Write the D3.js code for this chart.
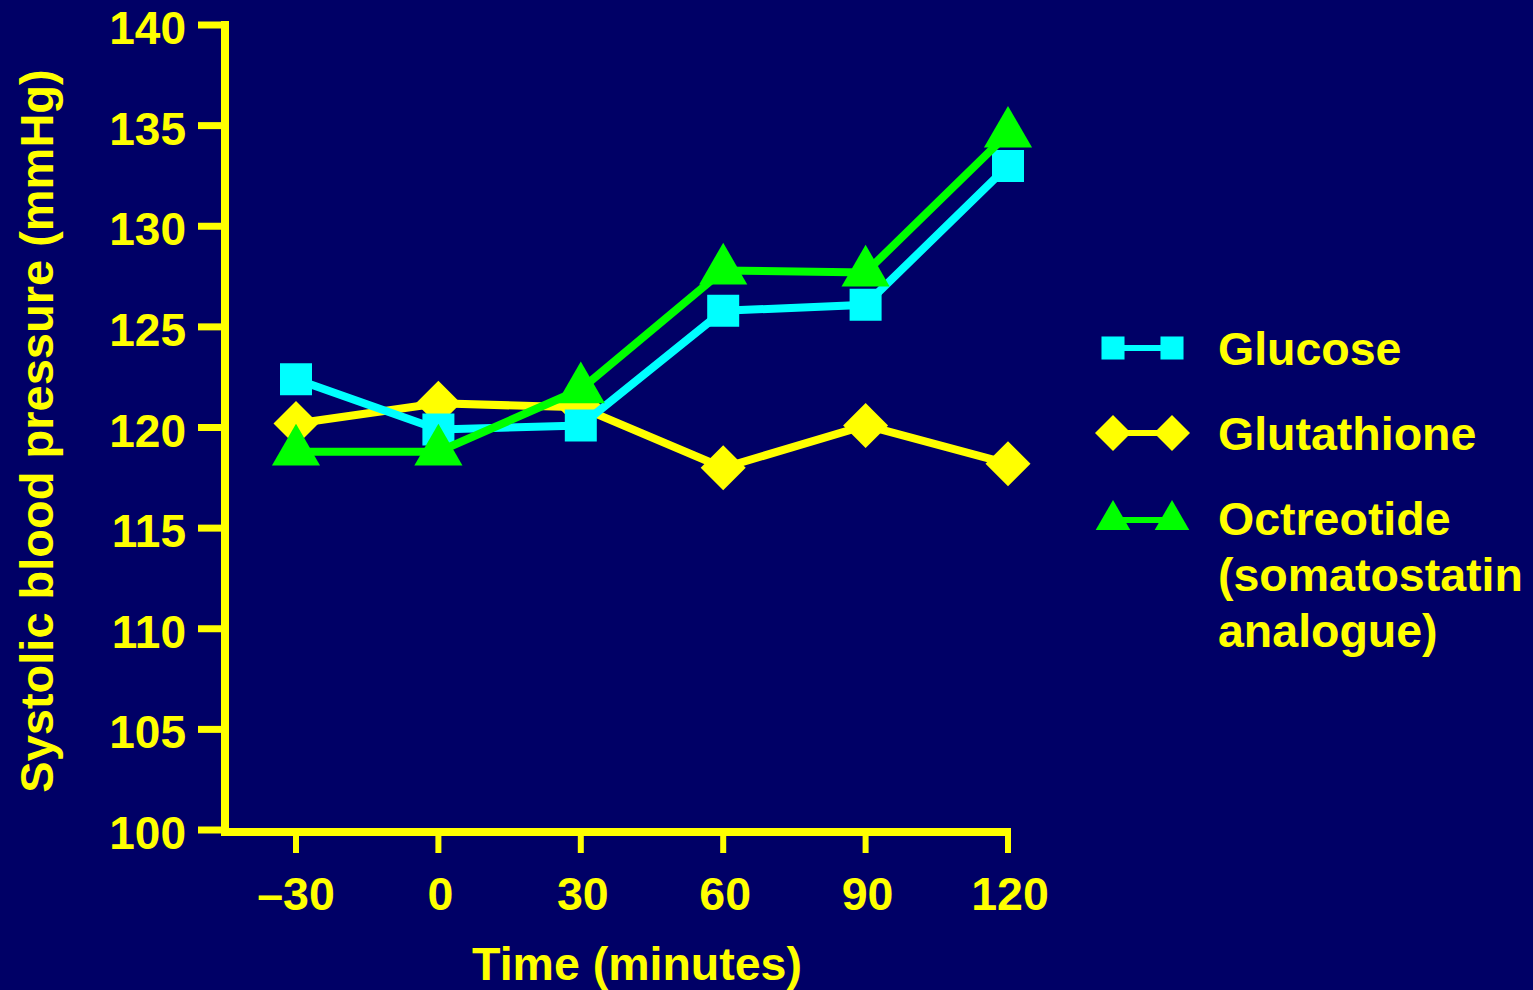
<!DOCTYPE html>
<html>
<head>
<meta charset="utf-8">
<script src="https://cdn.jsdelivr.net/npm/d3@7"></script>
<style>
  html, body { margin: 0; padding: 0; background: #000066; }
  svg { display: block; }
</style>
</head>
<body>
<script>
"use strict";

const width = 1533;
const height = 990;

// data
const times = [-30, 0, 30, 60, 90, 120];
const tickLabels = ["\u201330", "0", "30", "60", "90", "120"];
const yTicks = [100, 105, 110, 115, 120, 125, 130, 135, 140];
const glucose = [122.4, 119.9, 120.1, 125.8, 126.1, 133.0];
const glutathione = [120.2, 121.2, 121.0, 118.0, 120.1, 118.2];
const octreotide = [118.8, 118.8, 121.9, 127.8, 127.7, 134.6];

const yellow = "#ffff00";
const font = "'Liberation Sans', Arial, sans-serif";

const series = [
  { name: ["Glutathione"], values: glutathione, color: yellow, symbol: "diamond" },
  { name: ["Glucose"], values: glucose, color: "#00ffff", symbol: "square" },
  { name: ["Octreotide", "(somatostatin", "analogue)"], values: octreotide, color: "#00ff00", symbol: "triangle" }
];

const svg = d3.select("body")
  .append("svg")
  .attr("width", width)
  .attr("height", height);

svg.append("rect")
  .attr("width", width)
  .attr("height", height)
  .attr("fill", "#000066");

const x = d3.scaleLinear().domain([-30, 120]).range([296, 1008]);
const y = d3.scaleLinear().domain([100, 140]).range([830, 25]);

function symbolPath(kind, scale) {
  const s = scale || 1;
  if (kind === "square") return d3.symbol(d3.symbolSquare, 1024 * s * s)();
  if (kind === "diamond") return d3.symbol(d3.symbolSquare, 1012 * s * s)();
  return d3.symbol(d3.symbolTriangle, 1003 * s * s)();
}

// axes
const axis = svg.append("g").attr("stroke", yellow).attr("fill", "none");

axis.append("line")
  .attr("x1", 225).attr("x2", 225)
  .attr("y1", 21).attr("y2", 836)
  .attr("stroke-width", 8);

axis.append("line")
  .attr("x1", 221).attr("x2", 1011)
  .attr("y1", 832).attr("y2", 832)
  .attr("stroke-width", 8);

axis.selectAll(".ytick")
  .data(yTicks)
  .enter()
  .append("line")
  .attr("x1", 198).attr("x2", 225)
  .attr("y1", d => y(d)).attr("y2", d => y(d))
  .attr("stroke-width", 7);

axis.selectAll(".xtick")
  .data(times)
  .enter()
  .append("line")
  .attr("x1", d => x(d)).attr("x2", d => x(d))
  .attr("y1", 830).attr("y2", 853)
  .attr("stroke-width", 6);

const labels = svg.append("g")
  .attr("fill", yellow)
  .attr("font-family", font)
  .attr("font-weight", "bold");

labels.selectAll(".ylabel")
  .data(yTicks)
  .enter()
  .append("text")
  .attr("x", 186)
  .attr("y", d => y(d) + 19)
  .attr("text-anchor", "end")
  .attr("font-size", 46)
  .text(d => d);

labels.selectAll(".xlabel")
  .data(times)
  .enter()
  .append("text")
  .attr("x", (d, i) => x(d) + (i === 0 ? 0 : 2))
  .attr("y", 910)
  .attr("text-anchor", "middle")
  .attr("font-size", 46.5)
  .text((d, i) => tickLabels[i]);

labels.append("text")
  .attr("x", 637)
  .attr("y", 980)
  .attr("text-anchor", "middle")
  .attr("font-size", 46.5)
  .text("Time (minutes)");

labels.append("text")
  .attr("transform", "translate(53,431) rotate(-90)")
  .attr("text-anchor", "middle")
  .attr("font-size", 47)
  .text("Systolic blood pressure (mmHg)");

// series
const line = d3.line()
  .x((d, i) => x(times[i]))
  .y(d => y(d));

series.forEach(s => {
  const g = svg.append("g");
  g.append("path")
    .attr("d", line(s.values))
    .attr("fill", "none")
    .attr("stroke", s.color)
    .attr("stroke-width", 8);
  g.selectAll(".pt")
    .data(s.values)
    .enter()
    .append("path")
    .attr("d", symbolPath(s.symbol))
    .attr("transform", (d, i) =>
      "translate(" + x(times[i]) + "," + y(d) + ")" + (s.symbol === "diamond" ? " rotate(45)" : ""))
    .attr("fill", s.color);
});

// legend
const legendOrder = [series[1], series[0], series[2]];
const legendY = [348, 433, 520];
const textY = [365, 450, 535];

legendOrder.forEach((s, k) => {
  const g = svg.append("g");
  g.append("line")
    .attr("x1", 1113).attr("x2", 1172)
    .attr("y1", legendY[k]).attr("y2", legendY[k])
    .attr("stroke", s.color)
    .attr("stroke-width", 6);
  [1113, 1172].forEach(cx => {
    g.append("path")
      .attr("d", symbolPath(s.symbol, s.symbol === "diamond" ? 0.8 : 0.72))
      .attr("transform", "translate(" + cx + "," + legendY[k] + ")" + (s.symbol === "diamond" ? " rotate(45)" : ""))
      .attr("fill", s.color);
  });
  const t = g.append("text")
    .attr("fill", yellow)
    .attr("font-family", font)
    .attr("font-weight", "bold")
    .attr("font-size", 46.5)
    .attr("x", 1218)
    .attr("y", textY[k]);
  s.name.forEach((n, j) => {
    t.append("tspan")
      .attr("x", 1218)
      .attr("dy", j === 0 ? 0 : 56)
      .text(n);
  });
});
</script>
</body>
</html>
